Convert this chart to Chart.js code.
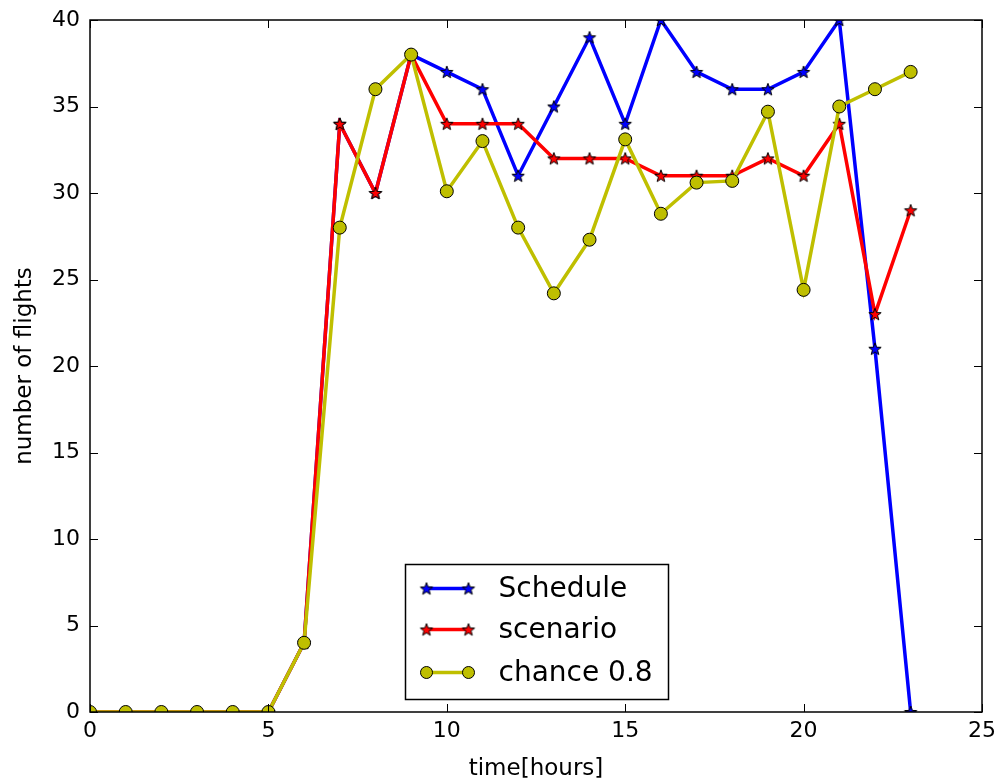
<!DOCTYPE html>
<html>
<head>
<meta charset="utf-8">
<script src="https://cdn.jsdelivr.net/npm/chart.js@4.4.1/dist/chart.umd.min.js"></script>
<style>
  html, body { margin: 0; padding: 0; background: #fff; }
</style>
</head>
<body>
<canvas id="chart" width="998" height="784"></canvas>
<script>
// ---- data ----
const HOURS = [0,1,2,3,4,5,6,7,8,9,10,11,12,13,14,15,16,17,18,19,20,21,22,23];
const SCHEDULE = [0,0,0,0,0,0,4,34,30,38,37,36,31,35,39,34,40,37,36,36,37,40,21,0];
const SCENARIO = [0,0,0,0,0,0,4,34,30,38,34,34,34,32,32,32,31,31,31,32,31,34,23,29];
const CHANCE   = [0,0,0,0,0,0,4,28,36,38,30.1,33,28,24.2,27.3,33.1,28.8,30.6,30.7,34.7,24.4,35,36,37];
const X_TICKS = [0,5,10,15,20,25];
const Y_TICKS = [0,5,10,15,20,25,30,35,40];
const SERIES_NAMES = ['Schedule','scenario','chance 0.8'];

const BLUE = '#0000ff';
const RED = '#ff0000';
const OLIVE = '#bfbf00';

// filled star marker (Chart.js 'star' is only an asterisk)
function makeStar(fill) {
  const c = document.createElement('canvas');
  c.width = 16; c.height = 16;
  const g = c.getContext('2d');
  g.beginPath();
  for (let i = 0; i < 10; i++) {
    const r = i % 2 ? 2.7 : 6.5;
    const a = -Math.PI / 2 + i * Math.PI / 5;
    g.lineTo(8 + r * Math.cos(a), 8.6 + r * Math.sin(a));
  }
  g.closePath();
  g.fillStyle = fill; g.fill();
  g.lineWidth = 1; g.strokeStyle = '#000'; g.stroke();
  return c;
}
const starBlue = makeStar(BLUE);
const starRed = makeStar(RED);

const toPoints = vals => HOURS.map((h, i) => ({ x: h, y: vals[i] }));

// ---- matplotlib-like frame, inward ticks and legend ----
const framePlugin = {
  id: 'frame',
  afterDatasetsDraw(chart) {
    const { ctx, chartArea: a, scales: { x, y } } = chart;
    ctx.save();
    ctx.strokeStyle = '#000';
    ctx.lineWidth = 1;
    ctx.beginPath();
    X_TICKS.forEach(v => {
      const px = Math.round(x.getPixelForValue(v)) + 0.5;
      ctx.moveTo(px, a.bottom); ctx.lineTo(px, a.bottom - 8);
      ctx.moveTo(px, a.top); ctx.lineTo(px, a.top + 8);
    });
    Y_TICKS.forEach(v => {
      const py = Math.round(y.getPixelForValue(v)) + 0.5;
      ctx.moveTo(a.left, py); ctx.lineTo(a.left + 8, py);
      ctx.moveTo(a.right, py); ctx.lineTo(a.right - 8, py);
    });
    ctx.stroke();
    ctx.lineWidth = 1.5;
    ctx.strokeRect(a.left, a.top, a.right - a.left, a.bottom - a.top);
    ctx.restore();
  },
  afterDraw(chart) {
    const { ctx, chartArea: a } = chart;
    const w = 263, h = 135;
    const left = Math.round((a.left + a.right) / 2 - w / 2) + 0.5;
    const top = Math.round(a.bottom - 13 - h) + 0.5;
    ctx.save();
    ctx.fillStyle = '#fff';
    ctx.fillRect(left, top, w, h);
    ctx.strokeStyle = '#000';
    ctx.lineWidth = 1.5;
    ctx.strokeRect(left, top, w, h);
    const rows = [24, 65, 108];
    const colors = [BLUE, RED, OLIVE];
    const marks = [starBlue, starRed, null];
    rows.forEach((dy, i) => {
      const yy = top + dy;
      const x1 = left + 21, x2 = left + 63;
      ctx.strokeStyle = colors[i];
      ctx.lineWidth = 3.5;
      ctx.beginPath(); ctx.moveTo(x1, yy); ctx.lineTo(x2, yy); ctx.stroke();
      [x1, x2].forEach(px => {
        if (marks[i]) {
          ctx.drawImage(marks[i], px - 8, yy - 8);
        } else {
          ctx.beginPath(); ctx.arc(px, yy, 6, 0, Math.PI * 2);
          ctx.fillStyle = OLIVE; ctx.fill();
          ctx.lineWidth = 1; ctx.strokeStyle = '#000'; ctx.stroke();
        }
      });
      ctx.fillStyle = '#000';
      ctx.font = '28px "DejaVu Sans"';
      ctx.textBaseline = 'middle';
      ctx.textAlign = 'left';
      ctx.fillText(SERIES_NAMES[i], left + 93, yy + 1);
    });
    ctx.restore();
  }
};

Chart.defaults.font.family = '"DejaVu Sans"';
Chart.defaults.color = '#000';

new Chart(document.getElementById('chart'), {
  type: 'line',
  data: {
    datasets: [
      {
        label: SERIES_NAMES[0], data: toPoints(SCHEDULE), order: 3,
        borderColor: BLUE, borderWidth: 3.5, pointStyle: starBlue, pointRadius: 7
      },
      {
        label: SERIES_NAMES[1], data: toPoints(SCENARIO), order: 2,
        borderColor: RED, borderWidth: 3.5, pointStyle: starRed, pointRadius: 7
      },
      {
        label: SERIES_NAMES[2], data: toPoints(CHANCE), order: 1,
        borderColor: OLIVE, borderWidth: 3.5, pointStyle: 'circle', pointRadius: 6.5,
        pointBackgroundColor: OLIVE, pointBorderColor: '#000', pointBorderWidth: 1
      }
    ]
  },
  options: {
    responsive: false,
    animation: false,
    events: [],
    layout: { padding: { top: 20, right: 16, left: 0, bottom: 0 } },
    plugins: { legend: { display: false }, tooltip: { enabled: false } },
    elements: { line: { tension: 0 } },
    scales: {
      x: {
        type: 'linear', min: 0, max: 25,
        afterFit: s => { s.height = 72; s.paddingLeft = 0; s.paddingRight = 0; },
        afterBuildTicks: s => { s.ticks = X_TICKS.map(v => ({ value: v })); },
        grid: { display: false, drawTicks: false },
        border: { display: false },
        ticks: { font: { size: 22 }, padding: 6, maxRotation: 0 },
        title: { display: true, text: 'time[hours]', font: { size: 23 }, padding: { top: 0, bottom: 1 } }
      },
      y: {
        type: 'linear', min: 0, max: 40,
        afterFit: s => { s.width = 90; s.paddingTop = 0; s.paddingBottom = 0; },
        afterBuildTicks: s => { s.ticks = Y_TICKS.map(v => ({ value: v })); },
        grid: { display: false, drawTicks: false },
        border: { display: false },
        ticks: { font: { size: 22 }, padding: 10 },
        title: { display: true, text: 'number of flights', font: { size: 23 }, padding: { top: 11, bottom: 0 } }
      }
    }
  },
  plugins: [framePlugin]
});
</script>
</body>
</html>
